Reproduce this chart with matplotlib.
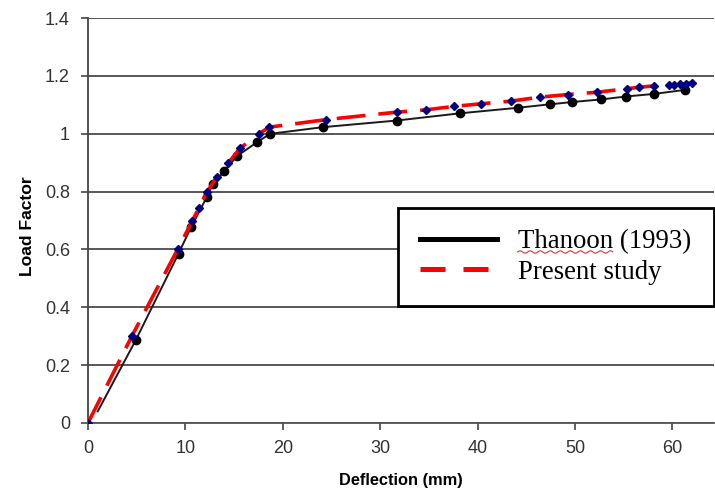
import numpy as np
import matplotlib
matplotlib.use("Agg")
import matplotlib.pyplot as plt
from matplotlib.lines import Line2D

# Thanoon (1993) experimental load-deflection curve
thanoon_defl = [1.0, 4.9, 9.3, 10.6, 12.2, 12.8, 14.0, 15.3, 17.4, 18.7, 24.1,
                31.7, 38.2, 44.1, 47.4, 49.7, 52.7, 55.2, 58.1, 61.3]
thanoon_load = [0.04, 0.286, 0.586, 0.678, 0.781, 0.825, 0.871, 0.923, 0.972, 1.0, 1.023,
                1.046, 1.071, 1.090, 1.102, 1.110, 1.119, 1.129, 1.138, 1.152]

# Present study (numerical) load-deflection curve
present_defl = [0.0, 4.5, 9.2, 10.7, 11.4, 12.2, 13.2, 14.4, 15.6, 17.6, 18.6, 24.4,
                31.7, 34.7, 37.6, 40.4, 43.4, 46.4, 49.3, 52.3, 55.3, 56.6, 58.1,
                59.6, 60.2, 60.8, 61.4, 62.0]
present_load = [0.0, 0.300, 0.600, 0.698, 0.745, 0.798, 0.850, 0.899, 0.950, 1.001, 1.023, 1.049,
                1.075, 1.083, 1.095, 1.104, 1.113, 1.127, 1.136, 1.144, 1.156, 1.161, 1.166,
                1.169, 1.170, 1.171, 1.174, 1.177]

x_ticks = [0, 10, 20, 30, 40, 50, 60]
y_ticks = [0, 0.2, 0.4, 0.6, 0.8, 1.0, 1.2, 1.4]
y_labels = ["0", "0.2", "0.4", "0.6", "0.8", "1", "1.2", "1.4"]

plt.rcParams["font.family"] = ["Liberation Sans", "DejaVu Sans"]

fig = plt.figure(figsize=(7.15, 4.91), dpi=100)
ax = fig.add_axes([0.123, 0.1385, 0.876, 0.8245])

# Thanoon: thin black line with round markers (first point unmarked)
ax.plot(thanoon_defl, thanoon_load, color="#1a1a1a", lw=1.4, zorder=3)
ax.plot(thanoon_defl[1:], thanoon_load[1:], ls="none", marker="o", ms=6,
        color="black", zorder=4)

# Present study: red dashed line with navy diamond markers
ax.plot(present_defl, present_load, color="#ff0000", lw=2.6,
        dashes=(8, 3.6), zorder=5)
ax.plot(present_defl, present_load, ls="none", marker="D", ms=4.2,
        color="#000080", zorder=6)

ax.set_xlim(0, 64.3)
ax.set_ylim(0, 1.4)
ax.set_xticks(x_ticks)
ax.set_yticks(y_ticks)
ax.set_yticklabels(y_labels)
ax.tick_params(axis="both", labelsize=13, labelcolor="#333333", color="#444444",
               length=5, width=1.2, direction="out")
ax.tick_params(axis="x", pad=7)
ax.tick_params(axis="y", pad=8)

ax.yaxis.grid(True, color="#4a4a4a", lw=1.3)
ax.set_axisbelow(True)
for side in ("top", "right"):
    ax.spines[side].set_visible(False)
ax.spines["left"].set_color("#444444")
ax.spines["bottom"].set_color("#555555")
ax.spines["left"].set_linewidth(1.3)
ax.spines["bottom"].set_linewidth(1.3)

ax.set_xlabel("Deflection (mm)", fontsize=11.8, fontweight="bold")
ax.set_ylabel("Load Factor", fontsize=12.6, fontweight="bold")
ax.xaxis.set_label_coords(0.499, -0.124)
ax.yaxis.set_label_coords(-0.0845, 0.486)

handles = [
    Line2D([], [], color="black", lw=3.6),
    Line2D([], [], color="#ff0000", lw=3.6, dashes=(5, 3.6)),
]
leg = ax.legend(handles, ["Thanoon (1993)", "Present study"],
                loc="upper left", bbox_to_anchor=(0.4955, 0.331, 0.504, 0.2),
                mode="expand", frameon=True, fancybox=False, framealpha=1,
                edgecolor="black", prop={"family": "Liberation Serif", "size": 19.3},
                handlelength=2.9, handletextpad=0.75, borderpad=0.8,
                labelspacing=0.2, borderaxespad=0)
leg.get_frame().set_linewidth(2.0)
leg.set_zorder(10)

# spell-check style wavy underline beneath the author name
fig.canvas.draw()
renderer = fig.canvas.get_renderer()
name_txt = leg.get_texts()[0]
bb = name_txt.get_window_extent(renderer)
name_w = name_txt.get_fontsize() * 100 / 72 * 3.55
xs = np.linspace(bb.x0, bb.x0 + name_w, 80)
ys = bb.y0 + 2.5 + 1.2 * np.sin((xs - bb.x0) / 1.6)
fig.add_artist(Line2D(xs / fig.bbox.width, ys / fig.bbox.height,
                      color="#e03030", lw=0.8, zorder=11))

fig.savefig("out.png", dpi=100)
